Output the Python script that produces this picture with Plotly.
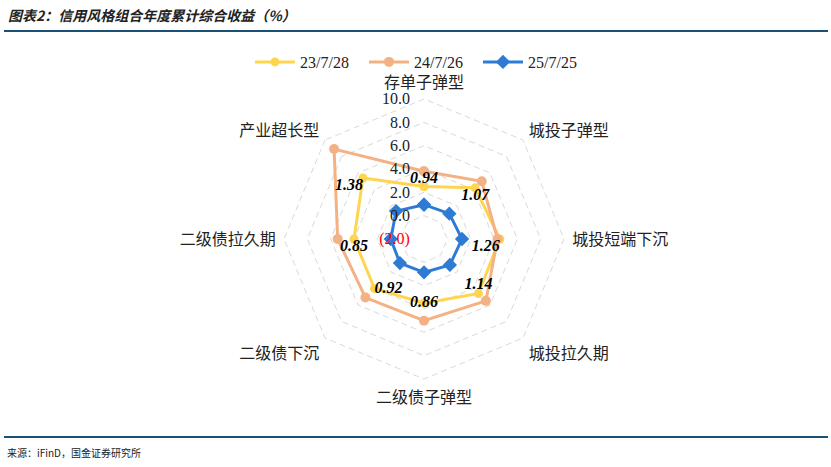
import plotly.graph_objects as go

# categories, clockwise from top
categories = ['存单子弹型', '城投子弹型', '城投短端下沉', '城投拉久期',
              '二级债子弹型', '二级债下沉', '二级债拉久期', '产业超长型']
series_names = ['23/7/28', '24/7/26', '25/7/25']
ret_2023 = [2.5, 4.2, 4.5, 4.6, 3.5, 4.0, 4.0, 5.4]
ret_2024 = [3.8, 5.0, 4.3, 5.5, 5.0, 5.1, 5.4, 8.9]
ret_2025 = [0.94, 1.07, 1.26, 1.14, 0.86, 0.92, 0.85, 1.38]
label_pos = ['top center', 'bottom center', 'bottom left', 'top center',
             'middle center', 'middle right', 'bottom center', 'bottom left']
r_ticks = [-2, 0, 2, 4, 6, 8, 10]
r_ticktext = ['<span style="color:#FF0000">(2.0)</span>', '0.0', '2.0', '4.0', '6.0', '8.0', '10.0']

# plotly hides polygon-grid points below |r_min| when r_min < 0,
# so the radial axis is drawn on a shifted scale (center = -2)
R_MIN = -2
R_MAX = 10
R_PAD = 0.3   # keeps the outer (10.0) grid ring from being clipped

serif = 'Liberation Serif, Times New Roman, Noto Sans CJK SC'
cjk = 'Noto Sans CJK SC'

def shifted(v, close=True):
    out = [x - R_MIN for x in v]
    return out + [out[0]] if close else out

cats_c = categories + [categories[0]]

# polar area in pixels: center (424, 239), 140px to the 10.0 ring
cx, cy, rad = 424, 239, 140 * (R_MAX - R_MIN + R_PAD) / (R_MAX - R_MIN)

fig = go.Figure()
fig.add_trace(go.Scatterpolar(r=shifted(ret_2023), theta=cats_c, name=series_names[0], mode='lines+markers',
                              line=dict(color='#FFD54F', width=3), marker=dict(size=9, symbol='circle')))
fig.add_trace(go.Scatterpolar(r=shifted(ret_2024), theta=cats_c, name=series_names[1], mode='lines+markers',
                              line=dict(color='#F4B183', width=3), marker=dict(size=10, symbol='circle')))
fig.add_trace(go.Scatterpolar(r=shifted(ret_2025), theta=cats_c, name=series_names[2], mode='lines+markers',
                              line=dict(color='#2E7BD6', width=3),
                              marker=dict(size=11, symbol='diamond', color='#2E7BD6')))
# data labels of 25/7/25, placed beside the 23/7/28 points like the original
fig.add_trace(go.Scatterpolar(r=shifted(ret_2023, close=False), theta=categories, mode='text', showlegend=False,
                              text=['%.2f' % v for v in ret_2025], textposition=label_pos,
                              textfont=dict(family=serif, size=16, color='black', weight='bold', style='italic'),
                              hoverinfo='skip'))

fig.update_layout(
    width=831, height=467,
    margin=dict(l=0, r=0, t=0, b=0),
    paper_bgcolor='white',
    font=dict(family=serif, size=16, color='#222222'),
    polar=dict(
        domain=dict(x=[(cx - rad) / 831, (cx + rad) / 831], y=[1 - (cy + rad) / 467, 1 - (cy - rad) / 467]),
        bgcolor='white',
        gridshape='linear',
        radialaxis=dict(range=[0, R_MAX - R_MIN + R_PAD], tickvals=[t - R_MIN for t in r_ticks],
                        ticktext=r_ticktext, angle=90,
                        side='counterclockwise', tickangle=90, showline=False,
                        ticks='outside', ticklen=8, tickcolor='rgba(0,0,0,0)',
                        gridcolor='#D9D9D9', griddash='6px,4px', gridwidth=1.2,
                        tickfont=dict(family=serif, size=16, color='#222222')),
        angularaxis=dict(direction='clockwise', rotation=90, showgrid=False, showline=False,
                         ticks='outside', ticklen=1, tickcolor='rgba(0,0,0,0)',
                         tickfont=dict(family=serif, size=16, color='#222222')),
    ),
    legend=dict(orientation='h', x=250 / 831, xanchor='left', y=1 - 62 / 467, yanchor='middle',
                font=dict(family=serif, size=16), itemwidth=40, bgcolor='rgba(0,0,0,0)',
                entrywidth=59, entrywidthmode='pixels'),
    showlegend=True,
)

fig.add_annotation(text='图表2：信用风格组合年度累计综合收益（%）', xref='paper', yref='paper',
                   x=6 / 831, y=1 - 15 / 467, xanchor='left', yanchor='middle', showarrow=False,
                   font=dict(family=cjk, size=14, color='#222222', weight='bold', style='italic'))
fig.add_annotation(text='来源：iFinD，国金证券研究所', xref='paper', yref='paper',
                   x=5 / 831, y=1 - 452 / 467, xanchor='left', yanchor='middle', showarrow=False,
                   font=dict(family=cjk, size=10, color='#222222'))
fig.add_shape(type='line', xref='paper', yref='paper', x0=4 / 831, x1=828 / 831,
              y0=1 - 31 / 467, y1=1 - 31 / 467, line=dict(color='#1B5076', width=2))
fig.add_shape(type='line', xref='paper', yref='paper', x0=4 / 831, x1=828 / 831,
              y0=1 - 437 / 467, y1=1 - 437 / 467, line=dict(color='#1B5076', width=2))

# drop the default 8px page margin so the figure sits at the window origin
fig.write_html('out.html', config={'displayModeBar': False},
               post_script="document.body.style.margin='0';")
